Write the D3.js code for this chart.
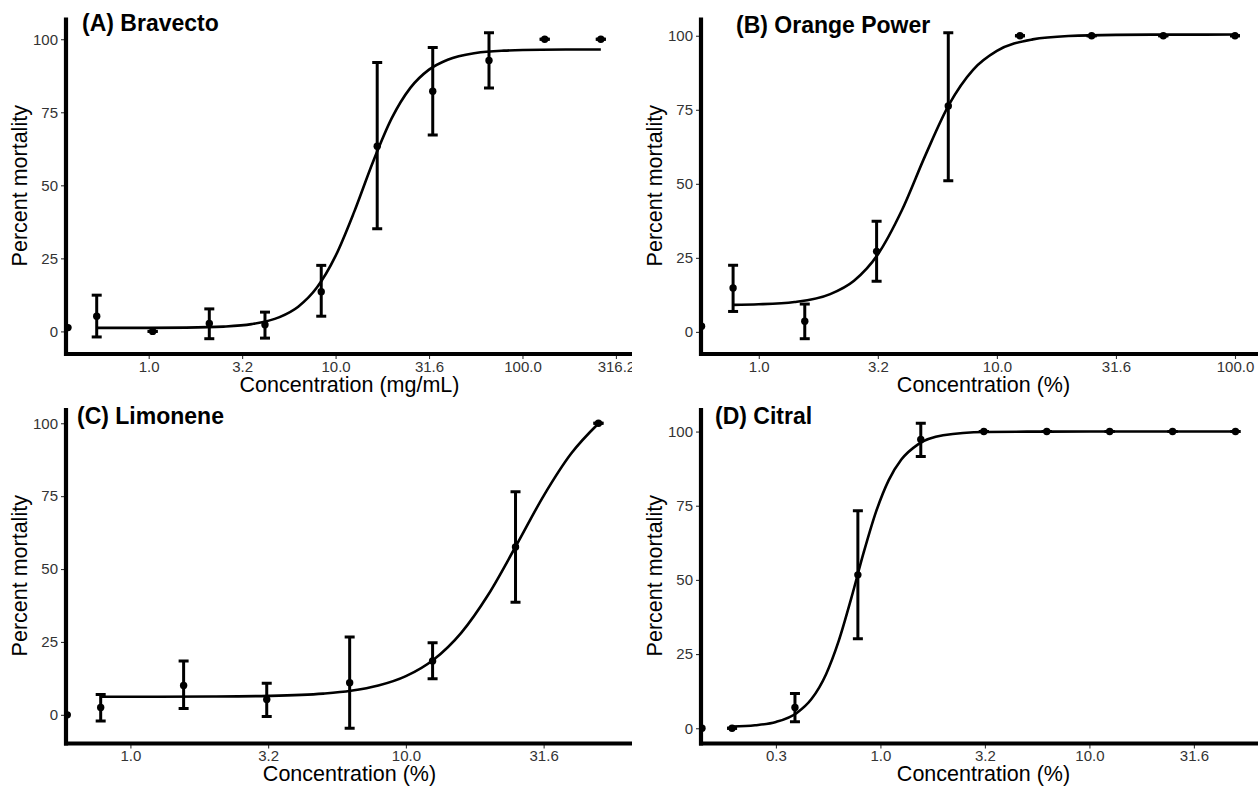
<!DOCTYPE html>
<html>
<head>
<meta charset="utf-8">
<script src="https://cdn.jsdelivr.net/npm/d3@7"></script>
<style>
  html, body { margin: 0; padding: 0; background: #fff; }
  svg { display: block; font-family: "Liberation Sans", Arial, sans-serif; }
  .tick line { stroke: #333; stroke-width: 1.1; }
  .tick text { fill: #333; font-size: 15px; font-family: "Liberation Sans", Arial, sans-serif; }
  .axis-title { font-size: 21.5px; fill: #000; }
  .panel-title { font-size: 23px; font-weight: bold; fill: #000; }
</style>
</head>
<body>
<svg id="chart" width="1258" height="786"></svg>
<script>
const yTicks = [0, 25, 50, 75, 100];

// (A) Bravecto
const bravectoTicks = [1, 3.162, 10, 31.62, 100, 316.2];
const bravectoConc = [0.527, 1.05, 2.11, 4.19, 8.38, 16.7, 33.1, 66.2, 131.5, 262.6];
const bravectoMean = [5.2, 0, 2.7, 2.3, 13.6, 63.4, 82.2, 92.7, 100, 100];
const bravectoLow = [-1.9, 0, -2.5, -2.3, 5.2, 35.1, 67.2, 83.3, 100, 100];
const bravectoHigh = [12.4, 0, 7.7, 6.6, 22.6, 92.0, 97.2, 102.2, 100, 100];
const bravectoControl = [0.37, 1.3];
const bravectoFitX = [0.527, 1, 1.585, 2.512, 3.548, 5.012, 6.31, 7.943, 10, 12.59, 15.85, 19.95, 25.12, 31.62, 39.81, 56.23, 79.43, 125.9, 262.6];
const bravectoFitY = [1.2, 1.22, 1.3, 1.64, 2.48, 4.88, 8.46, 15.0, 25.85, 41.0, 58.0, 72.9, 83.35, 89.6, 93.0, 95.3, 96.09, 96.4, 96.5];

// (B) Orange Power
const orangeTicks = [1, 3.162, 10, 31.62, 100];
const orangeConc = [0.78, 1.56, 3.125, 6.25, 12.5, 25, 50, 100];
const orangeMean = [14.8, 3.6, 27.2, 76.3, 100, 100, 100, 100];
const orangeLow = [6.9, -2.3, 17.1, 51.0, 100, 100, 100, 100];
const orangeHigh = [22.5, 9.4, 37.4, 101.0, 100, 100, 100, 100];
const orangeControl = [0.575, 1.9];
const orangeFitX = [0.78, 1, 1.413, 1.995, 2.512, 3.162, 3.981, 5.012, 6.31, 7.943, 10, 14.13, 19.95, 31.62, 56.23, 100];
const orangeFitY = [9.13, 9.31, 10.1, 12.77, 17.29, 26.16, 40.9, 59.7, 76.9, 88.5, 94.87, 98.77, 99.93, 100.31, 100.39, 100.4];

// (C) Limonene
const limoneneTicks = [1, 3.162, 10, 31.62];
const limoneneConc = [0.78, 1.56, 3.125, 6.25, 12.5, 25, 50];
const limoneneMean = [2.5, 10.1, 5.3, 11.0, 18.5, 57.6, 100];
const limoneneLow = [-2.1, 2.2, -0.6, -4.6, 12.4, 38.6, 100];
const limoneneHigh = [7.0, 18.5, 10.8, 26.7, 24.7, 76.5, 100];
const limoneneControl = [0.59, 0];
const limoneneFitX = [0.78, 1.259, 1.995, 3.162, 5.012, 6.31, 7.943, 10, 12.59, 15.85, 19.95, 25.12, 31.62, 39.81, 50];
const limoneneFitY = [6.21, 6.22, 6.28, 6.5, 7.29, 8.25, 10.04, 13.27, 18.9, 28.05, 41.37, 57.99, 75.1, 89.6, 99.9];

// (D) Citral
const citralTicks = [0.3162, 1, 3.162, 10, 31.62];
const citralConc = [0.195, 0.39, 0.78, 1.56, 3.125, 6.25, 12.5, 25, 50];
const citralMean = [0, 7.0, 51.7, 97.3, 100, 100, 100, 100, 100];
const citralLow = [0, 2.2, 30.2, 91.6, 100, 100, 100, 100, 100];
const citralHigh = [0, 11.7, 73.3, 102.8, 100, 100, 100, 100, 100];
const citralControl = [0.14, 0];
const citralFitX = [0.195, 0.2512, 0.3162, 0.3981, 0.4677, 0.5495, 0.631, 0.7244, 0.8318, 0.955, 1.096, 1.259, 1.514, 1.995, 3.162, 6.31, 15.85, 50];
const citralFitY = [0.59, 1.01, 2.12, 5.16, 9.83, 18.23, 29.34, 43.7, 59.25, 73.17, 83.65, 90.57, 95.7, 98.74, 99.84, 99.99, 100, 100];

const panels = [
  {
    id: "a", title: "(A) Bravecto", xLabel: "Concentration (mg/mL)",
    ticks: bravectoTicks, conc: bravectoConc, mean: bravectoMean, low: bravectoLow, high: bravectoHigh,
    control: bravectoControl, fitX: bravectoFitX, fitY: bravectoFitY,
    xDomain: [0.361, 390.3],
    left: 66, right: 633, top: 17.5, bottom: 354, clipLeft: 0, clipRight: 632,
    titleX: 82, titleY: 31
  },
  {
    id: "b", title: "(B) Orange Power", xLabel: "Concentration (%)",
    ticks: orangeTicks, conc: orangeConc, mean: orangeMean, low: orangeLow, high: orangeHigh,
    control: orangeControl, fitX: orangeFitX, fitY: orangeFitY,
    xDomain: [0.5719, 134.97],
    left: 701, right: 1266, top: 17.5, bottom: 354, clipLeft: 632, clipRight: 1258,
    titleX: 736, titleY: 33
  },
  {
    id: "c", title: "(C) Limonene", xLabel: "Concentration (%)",
    ticks: limoneneTicks, conc: limoneneConc, mean: limoneneMean, low: limoneneLow, high: limoneneHigh,
    control: limoneneControl, fitX: limoneneFitX, fitY: limoneneFitY,
    xDomain: [0.5837, 66.74],
    left: 66, right: 633, top: 408, bottom: 743.5, clipLeft: 0, clipRight: 632,
    titleX: 77, titleY: 424
  },
  {
    id: "d", title: "(D) Citral", xLabel: "Concentration (%)",
    ticks: citralTicks, conc: citralConc, mean: citralMean, low: citralLow, high: citralHigh,
    control: citralControl, fitX: citralFitX, fitY: citralFitY,
    xDomain: [0.1385, 69.98],
    left: 701, right: 1266, top: 408, bottom: 743.5, clipLeft: 632, clipRight: 1258,
    titleX: 715, titleY: 424
  }
];

const svg = d3.select("#chart");
const defs = svg.append("defs");
const fmtTick = d3.format(".1f");
const capHalf = 5;

function drawPanel(p) {
  const x = d3.scaleLog().domain(p.xDomain).range([p.left, p.right]);

  const allY = p.mean.concat(p.low, p.high, [p.control[1]]);
  const [yMin, yMax] = d3.extent(allY);
  const pad = (yMax - yMin) * 0.05;
  const y = d3.scaleLinear().domain([yMin - pad, yMax + pad]).range([p.bottom, p.top]);

  defs.append("clipPath").attr("id", `outer-${p.id}`)
    .append("rect")
    .attr("x", p.clipLeft).attr("y", 0)
    .attr("width", p.clipRight - p.clipLeft).attr("height", 786);

  defs.append("clipPath").attr("id", `plot-${p.id}`)
    .append("rect")
    .attr("x", p.left).attr("y", p.top)
    .attr("width", Math.min(p.right, p.clipRight) - p.left)
    .attr("height", p.bottom - p.top);

  const g = svg.append("g").attr("clip-path", `url(#outer-${p.id})`);
  const plot = g.append("g").attr("clip-path", `url(#plot-${p.id})`);

  const rows = p.conc.map((c, i) => ({ c, m: p.mean[i], lo: p.low[i], hi: p.high[i] }));
  const fit = p.fitX.map((c, i) => ({ c, v: p.fitY[i] }));

  const line = d3.line()
    .x((d) => x(d.c))
    .y((d) => y(d.v))
    .curve(d3.curveMonotoneX);

  plot.append("path")
    .datum(fit)
    .attr("fill", "none")
    .attr("stroke", "#000")
    .attr("stroke-width", 2.6)
    .attr("d", line);

  const bars = plot.append("g")
    .attr("stroke", "#000")
    .attr("stroke-width", 3)
    .attr("fill", "none");

  bars.selectAll(".stem")
    .data(rows)
    .join("line")
    .attr("x1", (d) => x(d.c)).attr("x2", (d) => x(d.c))
    .attr("y1", (d) => y(d.lo)).attr("y2", (d) => y(d.hi));

  bars.selectAll(".cap-hi")
    .data(rows)
    .join("line")
    .attr("class", "cap-hi")
    .attr("x1", (d) => x(d.c) - capHalf).attr("x2", (d) => x(d.c) + capHalf)
    .attr("y1", (d) => y(d.hi)).attr("y2", (d) => y(d.hi));

  bars.selectAll(".cap-lo")
    .data(rows)
    .join("line")
    .attr("class", "cap-lo")
    .attr("x1", (d) => x(d.c) - capHalf).attr("x2", (d) => x(d.c) + capHalf)
    .attr("y1", (d) => y(d.lo)).attr("y2", (d) => y(d.lo));

  plot.selectAll(".dot")
    .data(rows)
    .join("circle")
    .attr("class", "dot")
    .attr("cx", (d) => x(d.c))
    .attr("cy", (d) => y(d.m))
    .attr("r", 3.7)
    .attr("fill", "#000");

  plot.append("circle")
    .attr("cx", x(p.control[0]))
    .attr("cy", y(p.control[1]))
    .attr("r", 3.7)
    .attr("fill", "#000");

  // axes
  const yAxis = g.append("g")
    .attr("transform", `translate(${p.left},0)`)
    .call(d3.axisLeft(y).tickValues(yTicks).tickSize(5).tickPadding(3));
  yAxis.select(".domain").remove();

  const xAxis = g.append("g")
    .attr("transform", `translate(0,${p.bottom})`)
    .call(d3.axisBottom(x).tickValues(p.ticks).tickFormat(fmtTick).tickSize(5).tickPadding(2));
  xAxis.select(".domain").remove();

  g.append("path")
    .attr("d", `M${p.left},${p.top}V${p.bottom + 2}`)
    .attr("stroke", "#000")
    .attr("stroke-width", 4.2)
    .attr("fill", "none");

  g.append("path")
    .attr("d", `M${p.left - 2},${p.bottom}H${p.right}`)
    .attr("stroke", "#000")
    .attr("stroke-width", 4.2)
    .attr("fill", "none");

  g.append("text")
    .attr("class", "axis-title")
    .attr("x", (p.left + p.right) / 2)
    .attr("y", p.bottom + 37.5)
    .attr("text-anchor", "middle")
    .text(p.xLabel);

  g.append("text")
    .attr("class", "axis-title")
    .attr("transform", `translate(${p.left - 39},${(p.top + p.bottom) / 2}) rotate(-90)`)
    .attr("text-anchor", "middle")
    .text("Percent mortality");

  g.append("text")
    .attr("class", "panel-title")
    .attr("x", p.titleX)
    .attr("y", p.titleY)
    .text(p.title);
}

panels.forEach(drawPanel);
</script>
</body>
</html>
